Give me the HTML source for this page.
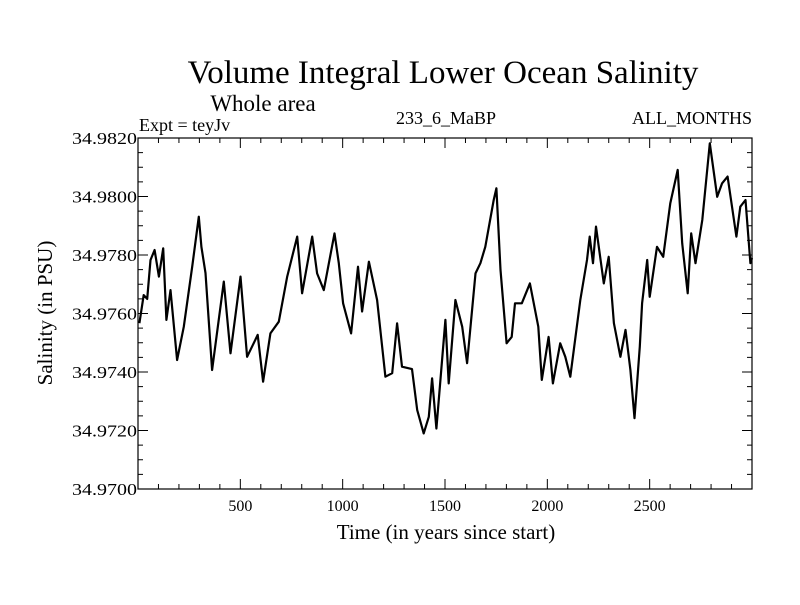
<!DOCTYPE html>
<html><head><meta charset="utf-8"><style>
body{margin:0;background:#fff}
svg text{font-family:"Liberation Serif",serif;fill:#000}
</style></head><body>
<svg id="chart" width="800" height="600" xmlns="http://www.w3.org/2000/svg">
<rect width="800" height="600" fill="#fff"/>
<text x="443" y="83" font-size="33" text-anchor="middle">Volume Integral Lower Ocean Salinity</text>
<text x="263" y="111" font-size="23" text-anchor="middle">Whole area</text>
<text x="139" y="131" font-size="18">Expt = teyJv</text>
<text x="446" y="124" font-size="18" text-anchor="middle">233_6_MaBP</text>
<text x="752" y="124" font-size="18" text-anchor="end">ALL_MONTHS</text>
<text transform="translate(52,313) rotate(-90)" font-size="21" text-anchor="middle">Salinity (in PSU)</text>
<text x="446" y="539" font-size="21" text-anchor="middle">Time (in years since start)</text>
<g id="axes"></g>
<polyline id="series" fill="none" stroke="#000" stroke-width="2.2" stroke-linejoin="round"/>
<rect x="138" y="138" width="614" height="351" fill="none" stroke="#000" stroke-width="1.2"/>
</svg>
<script>
const years=[7,28,45,61,81,102,123,139,159,191,224,265,297,310,330,362,419,452,501,533,585,611,647,688,729,778,802,851,875,908,960,981,1002,1041,1075,1095,1128,1168,1209,1242,1266,1290,1339,1364,1396,1421,1437,1458,1502,1518,1551,1584,1608,1649,1673,1697,1738,1751,1771,1801,1826,1842,1875,1915,1956,1973,2006,2027,2063,2088,2112,2161,2194,2207,2223,2238,2276,2300,2325,2357,2382,2406,2426,2452,2463,2488,2500,2536,2566,2601,2637,2659,2686,2703,2724,2757,2794,2830,2854,2881,2924,2943,2968,2992,3000];
const salinity=[34.97567,34.97663,34.9765,34.97783,34.97817,34.97726,34.97823,34.97578,34.9768,34.97441,34.97555,34.9776,34.97931,34.97828,34.97738,34.97407,34.97709,34.97464,34.97726,34.97452,34.97527,34.97367,34.97532,34.97572,34.97726,34.97863,34.97669,34.97863,34.97737,34.9768,34.97874,34.97772,34.97635,34.97532,34.9776,34.97607,34.97777,34.97646,34.97384,34.97396,34.97566,34.97418,34.9741,34.9727,34.9719,34.97247,34.97378,34.97207,34.97578,34.97361,34.97646,34.97555,34.9743,34.97737,34.97772,34.97828,34.97988,34.98028,34.97749,34.97498,34.9752,34.97635,34.97635,34.97703,34.97555,34.97373,34.9752,34.97361,34.97498,34.97452,34.97384,34.97646,34.97783,34.97863,34.97772,34.97897,34.97703,34.97794,34.97567,34.97452,34.97544,34.97407,34.97242,34.97487,34.97635,34.97783,34.97657,34.97828,34.97794,34.97977,34.98091,34.9784,34.97669,34.97874,34.97772,34.9792,34.98182,34.97999,34.98045,34.98068,34.97863,34.97965,34.97988,34.97772,34.9779];
const xTicks=[500,1000,1500,2000,2500];
const yTicks=[34.970,34.972,34.974,34.976,34.978,34.980,34.982];
const yTickLabels=["34.9700","34.9720","34.9740","34.9760","34.9780","34.9800","34.9820"];
const X0=138,X1=752,Y0=138,Y1=489,XMIN=0,XMAX=3000,YMIN=34.970,YMAX=34.982;
const sx=v=>X0+(v-XMIN)/(XMAX-XMIN)*(X1-X0);
const sy=v=>Y1-(v-YMIN)/(YMAX-YMIN)*(Y1-Y0);
const NS="http://www.w3.org/2000/svg";
const g=document.getElementById('axes');
function line(x1,y1,x2,y2,name){const l=document.createElementNS(NS,'line');
l.setAttribute('x1',x1);l.setAttribute('y1',y1);l.setAttribute('x2',x2);l.setAttribute('y2',y2);
l.setAttribute('stroke','#000');l.setAttribute('stroke-width','1');


g.appendChild(l);}
for(let v=100;v<XMAX;v+=100){const x=sx(v);const len=v%500===0?10:5;line(x,Y1,x,Y1-len,'x-tick');line(x,Y0,x,Y0+len,'x-tick-top');}
for(let k=1;k<24;k++){const v=YMIN+k*0.0005;const y=sy(v);const len=(k%4===0)?10:5;line(X0,y,X0+len,y,'y-tick');line(X1,y,X1-len,y,'y-tick-right');}
xTicks.forEach(v=>{const t=document.createElementNS(NS,'text');t.setAttribute('x',sx(v));t.setAttribute('y',Y1+22);
t.setAttribute('font-size','16');t.setAttribute('text-anchor','middle');t.textContent=v;


g.appendChild(t);});
yTicks.forEach((v,i)=>{const t=document.createElementNS(NS,'text');t.setAttribute('x',X0-66);t.setAttribute('y',sy(v)+6);
t.setAttribute('font-size','17');t.setAttribute('textLength','65');t.setAttribute('lengthAdjust','spacingAndGlyphs');t.textContent=yTickLabels[i];


g.appendChild(t);});
document.getElementById('series').setAttribute('points',years.map((y,i)=>sx(y).toFixed(1)+','+sy(salinity[i]).toFixed(1)).join(' '));
</script>
</body></html>
